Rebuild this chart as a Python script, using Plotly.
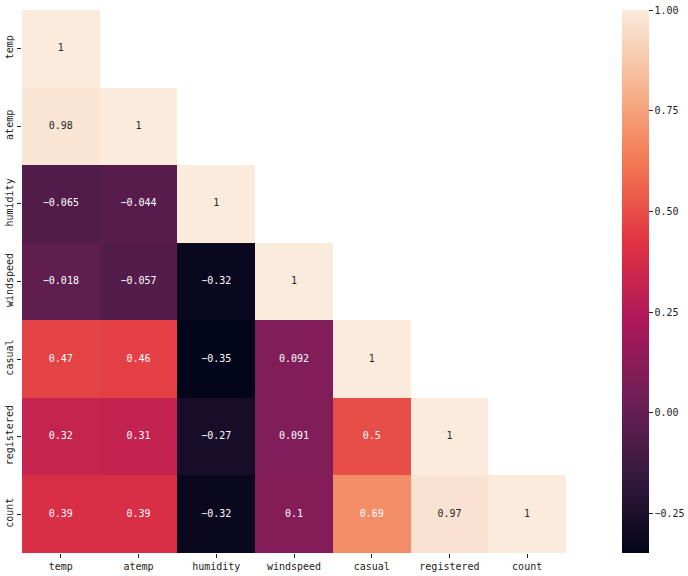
import plotly.graph_objects as go

labels = ["temp", "atemp", "humidity", "windspeed", "casual", "registered", "count"]

# lower-triangle correlation values (row by row, incl. diagonal)
row_temp = [1]
row_atemp = [0.98, 1]
row_humidity = [-0.065, -0.044, 1]
row_windspeed = [-0.018, -0.057, -0.32, 1]
row_casual = [0.47, 0.46, -0.35, 0.092, 1]
row_registered = [0.32, 0.31, -0.27, 0.091, 0.5, 1]
row_count = [0.39, 0.39, -0.32, 0.1, 0.69, 0.97, 1]

rows = [row_temp, row_atemp, row_humidity, row_windspeed, row_casual, row_registered, row_count]
n = len(labels)
z = [r + [None] * (n - len(r)) for r in rows]

zmin, zmax = -0.348, 1.0

rocket = [
    (0.0, "#03051a"),
    (1 / 7, "#35193e"),
    (2 / 7, "#701f57"),
    (3 / 7, "#ad1759"),
    (4 / 7, "#e13342"),
    (5 / 7, "#f37651"),
    (6 / 7, "#f6b48f"),
    (1.0, "#faebdd"),
]

FONT = "DejaVu Sans Mono"

fig = go.Figure()
fig.add_trace(go.Heatmap(
    z=z, x=labels, y=labels,
    colorscale=[[p, c] for p, c in rocket],
    zmin=zmin, zmax=zmax,
    hoverongaps=False,
    colorbar=dict(
        xref="container", x=622 / 688, xanchor="left", xpad=0,
        y=0.5, yanchor="middle", len=1, lenmode="fraction", ypad=0,
        thickness=27, outlinewidth=0,
        tickvals=[-0.25, 0, 0.25, 0.5, 0.75, 1.0],
        ticktext=["\u22120.25", "0.00", "0.25", "0.50", "0.75", "1.00"],
        ticks="outside", ticklen=4, tickwidth=1, tickcolor="#222",
        tickfont=dict(family=FONT, size=10, color="#222"),
    ),
))

tx, ty, tt, tc = [], [], [], []
for i, r in enumerate(rows):
    for j, v in enumerate(r):
        tx.append(labels[j])
        ty.append(labels[i])
        tt.append(format(v, ".2g").replace("-", "\u2212"))
        tc.append("#262626" if v >= 0.9 else "white")

fig.add_trace(go.Scatter(
    x=tx, y=ty, text=tt, mode="text",
    textfont=dict(family=FONT, size=10, color=tc),
    hoverinfo="skip", showlegend=False,
))

fig.update_layout(
    width=688, height=576,
    margin=dict(l=22, r=122, t=10, b=23, autoexpand=False),
    paper_bgcolor="white", plot_bgcolor="white",
    font=dict(family=FONT, size=10, color="#222"),
    showlegend=False,
)
fig.update_xaxes(
    type="category", categoryorder="array", categoryarray=labels,
    showgrid=False, zeroline=False, showline=False, automargin=False,
    ticks="outside", ticklen=4, tickcolor="#222",
    tickfont=dict(family=FONT, size=10), range=[-0.5, n - 0.5],
)
fig.update_yaxes(
    type="category", categoryorder="array", categoryarray=labels,
    autorange="reversed", automargin=False,
    showgrid=False, zeroline=False, showline=False,
    ticks="outside", ticklen=4, tickcolor="#222", tickangle=-90,
    tickfont=dict(family=FONT, size=10),
)

fig.write_html("out.html")
